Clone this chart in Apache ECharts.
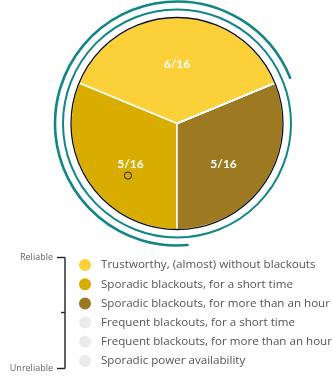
<!DOCTYPE html>
<html>
<head>
<meta charset="utf-8">
<style>
  html, body { margin: 0; padding: 0; background: #ffffff; }
  #chart { width: 332px; height: 376px; }
</style>
<script src="https://cdn.jsdelivr.net/npm/echarts@6/dist/echarts.min.js"></script>
</head>
<body>
<div id="chart"></div>
<script>
// Power supply reliability: how many of 16 respondents reported each situation
const categories = [
  'Trustworthy, (almost) without blackouts',
  'Sporadic blackouts, for a short time',
  'Sporadic blackouts, for more than an hour',
  'Frequent blackouts, for a short time',
  'Frequent blackouts, for more than an hour',
  'Sporadic power availability'
];
const counts = [6, 5, 5, 0, 0, 0];
const total = 16;
const colors = ['#fcd038', '#d8ad00', '#9d7a22', '#ebebeb', '#ebebeb', '#ebebeb'];
const scaleEnds = ['Reliable', 'Unreliable'];

// Layout of the pie and its decorations
const cx = 177, cy = 123.5, R = 106;
const labelShiftY = [-3, 10, 10, 0, 0, 0];
const teal = '#128686';
const deg = Math.PI / 180;

const chart = echarts.init(document.getElementById('chart'), null, { renderer: 'canvas' });

const pieData = categories.map((name, i) => ({
  name,
  value: counts[i],
  itemStyle: { color: colors[i] },
  label: { offset: [0, labelShiftY[i]] }
}));

// Bracket beside the legend (reliable -> unreliable scale)
const bx = 65, byTop = 257.5, byBot = 368.5, byMid = 312.5;
const bracket = [
  { type: 'line', shape: { x1: bx, y1: byTop, x2: bx, y2: byBot }, style: { stroke: '#222', lineWidth: 1.4 } },
  { type: 'line', shape: { x1: 57, y1: byTop, x2: bx, y2: byTop }, style: { stroke: '#222', lineWidth: 1.4 } },
  { type: 'line', shape: { x1: 61, y1: byMid, x2: bx, y2: byMid }, style: { stroke: '#222', lineWidth: 1.4 } },
  { type: 'line', shape: { x1: 57, y1: byBot, x2: bx, y2: byBot }, style: { stroke: '#222', lineWidth: 1.4 } },
  { type: 'text', x: 53, y: byTop, style: { text: scaleEnds[0], fill: '#666', font: '9px "Open Sans"', align: 'right', verticalAlign: 'middle' } },
  { type: 'text', x: 53, y: byBot, style: { text: scaleEnds[1], fill: '#666', font: '9px "Open Sans"', align: 'right', verticalAlign: 'middle' } }
];

// Teal rings around the pie
const rings = [
  { type: 'arc', z: 10, shape: { cx, cy, r: 114, startAngle: 0, endAngle: 2 * Math.PI }, style: { stroke: teal, lineWidth: 2, fill: null } },
  { type: 'arc', z: 10, shape: { cx, cy, r: 122, startAngle: 85 * deg, endAngle: 338 * deg, clockwise: true }, style: { stroke: teal, lineWidth: 2.6, fill: null, lineCap: 'round' } }
];

// Dark outline of the pie, and the small ring marker in the gold slice
const markerAngle = 226.7 * deg, markerDist = 71.5;
const overlays = [
  { type: 'circle', z: 100, shape: { cx, cy, r: R }, style: { stroke: '#111', lineWidth: 1.3, fill: null } },
  { type: 'circle', z: 100, shape: { cx: cx + markerDist * Math.cos(markerAngle), cy: cy - markerDist * Math.sin(markerAngle), r: 3.6 }, style: { stroke: '#222', lineWidth: 1, fill: null } }
];

chart.setOption({
  backgroundColor: '#ffffff',
  animation: false,
  legend: {
    orient: 'vertical',
    left: 77,
    top: 257,
    height: 160,
    padding: 0,
    icon: 'circle',
    itemWidth: 14,
    itemHeight: 14,
    itemGap: 3.2,
    selectedMode: false,
    data: categories,
    textStyle: {
      color: '#555',
      fontSize: 11.6,
      fontFamily: 'Open Sans',
      padding: [0, 0, 0, 4]
    }
  },
  series: [{
    type: 'pie',
    center: [cx, cy],
    radius: R,
    startAngle: 22.5,
    clockwise: false,
    stillShowZeroSum: true,
    silent: true,
    emphasis: { disabled: true },
    itemStyle: { borderColor: '#ffffff', borderWidth: 1.5 },
    label: {
      show: true,
      position: 'inside',
      color: '#ffffff',
      fontSize: 12,
      fontWeight: 'bold',
      fontFamily: 'Lato',
      formatter: p => p.value > 0 ? p.value + '/' + total : ''
    },
    labelLine: { show: false },
    data: pieData
  }],
  graphic: { elements: [...rings, ...overlays, ...bracket] }
});
</script>
</body>
</html>
